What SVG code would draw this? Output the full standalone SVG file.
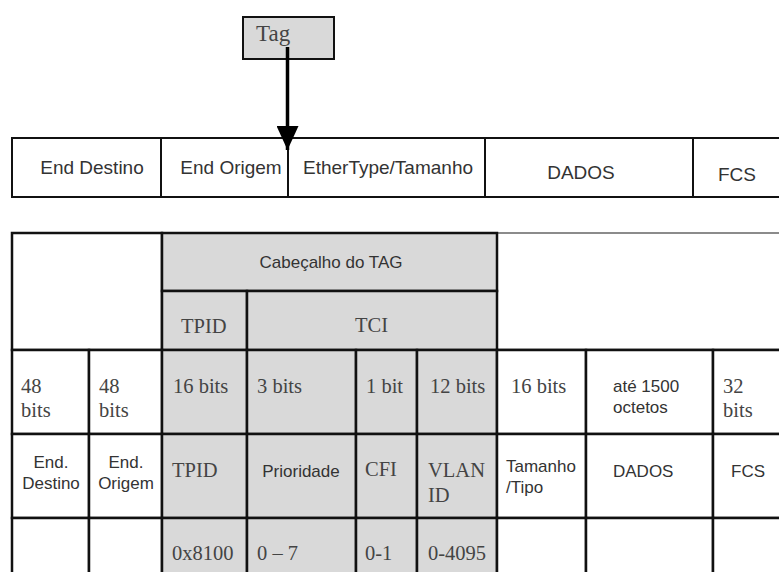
<svg xmlns="http://www.w3.org/2000/svg" width="779" height="572" viewBox="0 0 779 572">
<defs>
<style>
.bg{fill:#ffffff}
.cell{fill:#ffffff;stroke:#111;stroke-width:2.5}
.gray{fill:#d9d9d9;stroke:#111;stroke-width:2.5}
.thin{fill:#ffffff;stroke:#111;stroke-width:2}
.sans{font-family:"Liberation Sans",Arial,sans-serif;fill:#333}
.serif{font-family:"Liberation Serif","Times New Roman",serif;fill:#444}
.s19{font-size:19px}
.s17{font-size:17px}
.r20{font-size:20.5px}
.mid{text-anchor:middle}
</style>
<marker id="ah" viewBox="0 0 24 22" refX="24" refY="11" markerWidth="24" markerHeight="22" markerUnits="userSpaceOnUse" orient="auto">
<path d="M0,0 L24,11 L0,22 Z" fill="#000"/>
</marker>
</defs>
<rect class="bg" x="0" y="0" width="779" height="572"/>

<!-- Tag node -->
<g id="tag">
<rect x="243" y="17" width="91" height="42" fill="#d9d9d9" stroke="#111" stroke-width="2"/>
<text class="serif" x="256" y="41" font-size="23" fill="#333">Tag</text>
</g>

<!-- Top frame -->
<g id="frame-end-destino">
<rect class="thin" x="12" y="138" width="149" height="59"/>
<text class="sans s19 mid" x="92" y="174">End Destino</text>
</g>
<g id="frame-end-origem">
<rect class="thin" x="161" y="138" width="127" height="59"/>
<text class="sans s19 mid" x="231" y="174">End Origem</text>
</g>
<g id="frame-ethertype">
<rect class="thin" x="288" y="138" width="197" height="59"/>
<text class="sans s19 mid" x="388" y="174">EtherType/Tamanho</text>
</g>
<g id="frame-dados">
<rect class="thin" x="485" y="138" width="208" height="59"/>
<text class="sans s19 mid" x="581" y="179">DADOS</text>
</g>
<g id="frame-fcs">
<rect class="thin" x="693" y="138" width="100" height="59"/>
<text class="sans s19 mid" x="737" y="181">FCS</text>
</g>

<!-- Bottom table -->
<g id="t-blank-left">
<rect class="cell" x="12" y="233" width="150" height="117"/>
</g>
<g id="t-blank-right">
<rect x="497" y="233" width="300" height="117" fill="#fff" stroke="#666" stroke-width="1.5"/>
<line x1="497" y1="350" x2="790" y2="350" stroke="#111" stroke-width="2.5"/>
</g>
<g id="t-cabecalho">
<rect class="gray" x="162" y="233" width="335" height="58"/>
<text class="sans s17 mid" x="331" y="268">Cabeçalho do TAG</text>
</g>
<g id="t-tpid-h">
<rect class="gray" x="162" y="291" width="85" height="59"/>
<text class="serif r20" x="181" y="333">TPID</text>
</g>
<g id="t-tci">
<rect class="gray" x="247" y="291" width="250" height="59"/>
<text class="serif r20" x="355" y="332">TCI</text>
</g>

<!-- row: sizes -->
<g id="r3-c1"><rect class="cell" x="12" y="350" width="77" height="84"/>
<text class="serif r20" x="21" y="393">48</text><text class="serif r20" x="21" y="417">bits</text></g>
<g id="r3-c2"><rect class="cell" x="89" y="350" width="73" height="84"/>
<text class="serif r20" x="99" y="393">48</text><text class="serif r20" x="99" y="417">bits</text></g>
<g id="r3-c3"><rect class="gray" x="162" y="350" width="85" height="84"/>
<text class="serif r20" x="173" y="393">16 bits</text></g>
<g id="r3-c4"><rect class="gray" x="247" y="350" width="109" height="84"/>
<text class="serif r20" x="257" y="393">3 bits</text></g>
<g id="r3-c5"><rect class="gray" x="356" y="350" width="61" height="84"/>
<text class="serif r20" x="366" y="393">1 bit</text></g>
<g id="r3-c6"><rect class="gray" x="417" y="350" width="80" height="84"/>
<text class="serif r20" x="430" y="393">12 bits</text></g>
<g id="r3-c7"><rect class="cell" x="497" y="350" width="89" height="84"/>
<text class="serif r20" x="511" y="393">16 bits</text></g>
<g id="r3-c8"><rect class="cell" x="586" y="350" width="127" height="84"/>
<text class="sans s17" x="613" y="392">até 1500</text><text class="sans s17" x="613" y="413">octetos</text></g>
<g id="r3-c9"><rect class="cell" x="713" y="350" width="80" height="84"/>
<text class="serif r20" x="723" y="393">32</text><text class="serif r20" x="723" y="417">bits</text></g>

<!-- row: names -->
<g id="r4-c1"><rect class="cell" x="12" y="434" width="77" height="84"/>
<text class="sans s17 mid" x="51" y="468">End.</text><text class="sans s17 mid" x="51" y="489">Destino</text></g>
<g id="r4-c2"><rect class="cell" x="89" y="434" width="73" height="84"/>
<text class="sans s17 mid" x="126" y="468">End.</text><text class="sans s17 mid" x="126" y="489">Origem</text></g>
<g id="r4-c3"><rect class="gray" x="162" y="434" width="85" height="84"/>
<text class="serif r20" x="172" y="477">TPID</text></g>
<g id="r4-c4"><rect class="gray" x="247" y="434" width="109" height="84"/>
<text class="sans s17 mid" x="301" y="477">Prioridade</text></g>
<g id="r4-c5"><rect class="gray" x="356" y="434" width="61" height="84"/>
<text class="serif r20" x="365" y="476">CFI</text></g>
<g id="r4-c6"><rect class="gray" x="417" y="434" width="80" height="84"/>
<text class="serif r20" x="428" y="477">VLAN</text><text class="serif r20" x="428" y="502">ID</text></g>
<g id="r4-c7"><rect class="cell" x="497" y="434" width="89" height="84"/>
<text class="sans s17" x="506" y="472">Tamanho</text><text class="sans s17" x="506" y="493">/Tipo</text></g>
<g id="r4-c8"><rect class="cell" x="586" y="434" width="127" height="84"/>
<text class="sans s17" x="613" y="477">DADOS</text></g>
<g id="r4-c9"><rect class="cell" x="713" y="434" width="80" height="84"/>
<text class="sans s17" x="731" y="477">FCS</text></g>

<!-- row: values -->
<g id="r5-c1"><rect class="cell" x="12" y="518" width="77" height="70"/></g>
<g id="r5-c2"><rect class="cell" x="89" y="518" width="73" height="70"/></g>
<g id="r5-c3"><rect class="gray" x="162" y="518" width="85" height="70"/>
<text class="serif r20" x="172" y="560">0x8100</text></g>
<g id="r5-c4"><rect class="gray" x="247" y="518" width="109" height="70"/>
<text class="serif r20" x="257" y="560">0 – 7</text></g>
<g id="r5-c5"><rect class="gray" x="356" y="518" width="61" height="70"/>
<text class="serif r20" x="365" y="560">0-1</text></g>
<g id="r5-c6"><rect class="gray" x="417" y="518" width="80" height="70"/>
<text class="serif r20" x="428" y="560">0-4095</text></g>
<g id="r5-c7"><rect class="cell" x="497" y="518" width="89" height="70"/></g>
<g id="r5-c8"><rect class="cell" x="586" y="518" width="127" height="70"/></g>
<g id="r5-c9"><rect class="cell" x="713" y="518" width="80" height="70"/></g>

<!-- Connectors -->
<g id="connectors">
<line x1="287.5" y1="47" x2="287.5" y2="150" stroke="#000" stroke-width="3.5" marker-end="url(#ah)"/>
</g>
</svg>
